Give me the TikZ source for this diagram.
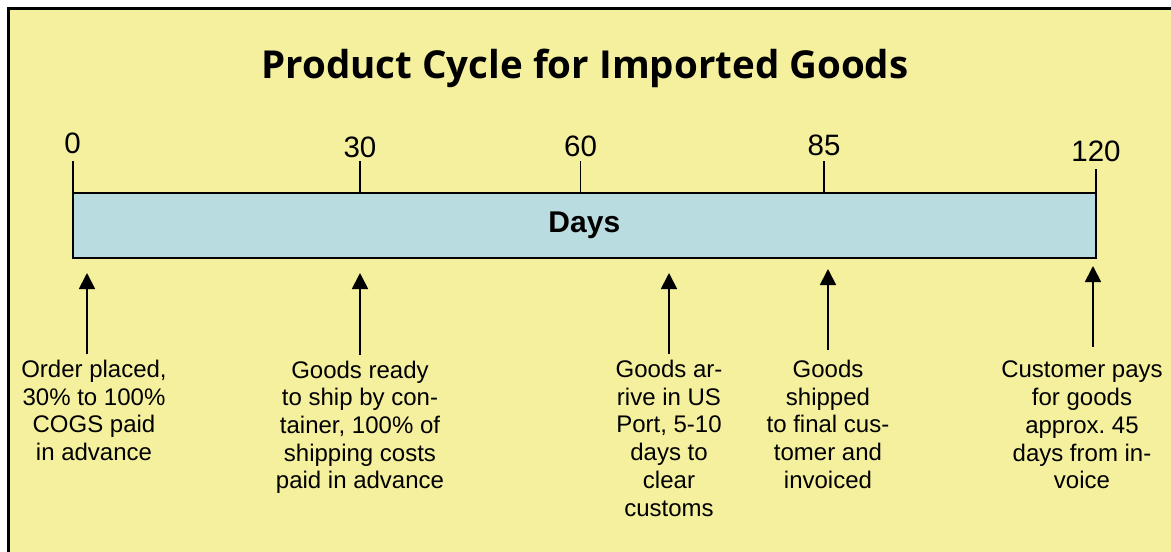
\documentclass[tikz,border=0pt]{standalone}
\usepackage{fontspec}
\setmainfont{Liberation Sans}
\newfontfamily\titlefont{Open Sans}
\usepackage{tikz}
\usetikzlibrary{arrows.meta,positioning}
\definecolor{panelyellow}{RGB}{244,240,157}
\definecolor{dayblue}{RGB}{185,220,224}
\frenchspacing

\begin{document}
\begin{tikzpicture}[x=1pt, y=-1pt,
    tick/.style={line width=1.8pt},
    ticklabel/.style={anchor=base, inner sep=0pt, font=\fontsize{29.5}{34}\selectfont},
    note/.style={anchor=north, inner sep=0pt, align=center, font=\fontsize{24}{27.7}\selectfont},
    uparrow/.style={-{Triangle[width=16pt,length=16pt]}, line width=1.8pt}]

    % Canvas and frame
    \useasboundingbox (0,0) rectangle (1171,552);
    \fill[white] (0,0) rectangle (1171,552);
    \begin{scope}
        \clip (0,0) rectangle (1171,552);
        \draw[line width=2.6pt, fill=panelyellow] (8.5,8.5) rectangle (1200,600);
    \end{scope}

    % Title
    \node[anchor=base, font=\titlefont\bfseries\fontsize{38.5}{42}\selectfont] (title) at (585,78.3) {Product Cycle for Imported Goods};

    % Day bar
    \node[draw, line width=1.8pt, fill=dayblue, minimum width=1023.3pt, minimum height=64.4pt, inner sep=0pt,
          font=\bfseries\fontsize{30}{34}\selectfont] (days) at (584.35,225.5) {Days};

    % Ticks and day counts
    \foreach \d/\x/\top/\base in {0/72.7/161/153, 30/360/161/157.5, 60/580.5/161/156, 85/824/161/155.5, 120/1096/169/161.5} {
        \coordinate (t\d) at (\x,\top);
        \draw[tick] (t\d) -- (t\d |- days.north);
        \node[ticklabel] (n\d) at (\x,\base) {\d};
    }

    % Milestone notes
    \node[note] (order) at (94,360) {Order placed,\\30\% to 100\%\\COGS paid\\in advance};
    \node[note] (ready) at (360,360.5) {Goods ready\\to ship by con-\\tainer, 100\% of\\shipping costs\\paid in advance};
    \node[note] (port) at (669,360) {Goods ar-\\rive in US\\Port, 5-10\\days to\\clear\\customs};
    \node[note] (shipped) at (828,360) {Goods\\shipped\\to final cus-\\tomer and\\invoiced};
    \node[note] (pays) at (1082,361) {Customer pays\\for goods\\approx. 45\\days from in-\\voice};

    % Arrow tips under the bar
    \coordinate (pOrder) at (87,273);
    \coordinate (pReady) at (360,273);
    \coordinate (pPort) at (669,273);
    \coordinate (pShipped) at (828,269);
    \coordinate (pPays) at (1093,266);

    % Arrows
    \draw[uparrow, shorten <=6pt] (pOrder |- order.north) -- (pOrder);
    \draw[uparrow, shorten <=6pt] (pReady |- ready.north) -- (pReady);
    \draw[uparrow, shorten <=6pt] (pPort |- port.north) -- (pPort);
    \draw[uparrow, shorten <=10pt] (pShipped |- shipped.north) -- (pShipped);
    \draw[uparrow, shorten <=14pt] (pPays |- pays.north) -- (pPays);

\end{tikzpicture}
\end{document}
